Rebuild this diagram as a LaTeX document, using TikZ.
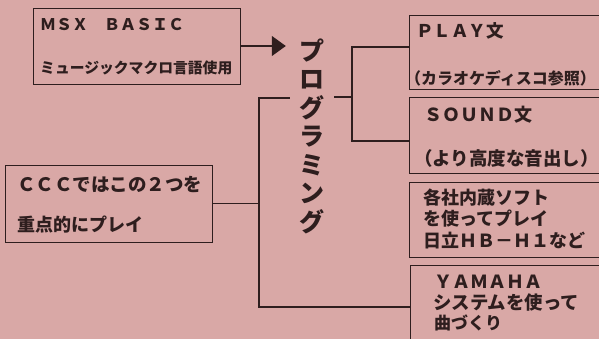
\documentclass[tikz,border=0pt]{standalone}
\usepackage{fontspec}
\setmainfont{Noto Sans CJK JP}
\usetikzlibrary{positioning,arrows.meta}
\definecolor{paper}{RGB}{217,168,166}
\definecolor{ink}{RGB}{46,30,30}

\begin{document}
\begin{tikzpicture}[
        x=1pt, y=-1pt,
        every node/.style={text=ink},
        box/.style={draw=ink, line width=0.9pt, minimum width=207pt, inner sep=0pt},
        wide/.style={minimum width=231pt},
        txt/.style={anchor=west, inner sep=0pt},
        link/.style={draw=ink, line width=1.1pt},
        fs/.style={font=\fontsize{#1}{#1}\selectfont\bfseries}
    ]
    \fill[paper] (0,0) rectangle (599,339);
    \clip (0,0) rectangle (599,339);

    % boxes
    \node[box, minimum height=76pt] (msx) at (136.5,46) {};
    \node[box, minimum height=77pt] (ccc) at (108.5,203.5) {};
    \node[box, wide, minimum height=74pt] (play) at (524.5,52) {};
    \node[box, wide, minimum height=76pt] (sound) at (524.5,135) {};
    \node[box, wide, minimum height=75pt] (naizo) at (525,219.5) {};
    \node[box, wide, minimum height=95pt] (yamaha) at (525.5,312.5) {};

    % texts
    \node[txt, fs=16] (msxa) at (40,25) {ＭＳＸ　ＢＡＳＩＣ};
    \node[txt, fs=14.8] (msxb) at (40,68) {ミュージックマクロ言語使用};
    \node[txt, fs=18.5] (ccca) at (17,185) {ＣＣＣではこの２つを};
    \node[txt, fs=18] (cccb) at (17,225) {重点的にプレイ};
    \node[txt, fs=17.5] (playa) at (416,31) {ＰＬＡＹ文};
    \node[txt, fs=16] (playb) at (405,78) {（カラオケディスコ参照）};
    \node[txt, fs=18] (sounda) at (424,115) {ＳＯＵＮＤ文};
    \node[txt, fs=18.5] (soundb) at (414,158) {（より高度な音出し）};
    \node[txt, fs=18] (naizoa) at (423,198) {各社内蔵ソフト};
    \node[txt, fs=18] (naizob) at (423,219) {を使ってプレイ};
    \node[txt, fs=18] (naizoc) at (423,241) {日立ＨＢ－Ｈ１など};
    \node[txt, fs=18] (yamahaa) at (434,282) {ＹＡＭＡＨＡ};
    \node[txt, fs=18.4] (yamahab) at (433,302) {システムを使って};
    \node[txt, fs=17] (yamahac) at (434,323) {曲づくり};

    \node[font=\fontsize{25}{28.5}\selectfont\bfseries, align=center, minimum width=44pt, inner sep=0pt] (prog) at (312,136) {プ\\ロ\\グ\\ラ\\ミ\\ン\\グ};

    % connectors
    \draw[link, -{Triangle[length=14pt,width=20pt]}, shorten >=4pt] (msx.east) -- (msx.east -| prog.west);

    \coordinate (ltop) at (259,98);
    \coordinate (lbot) at (259,307);
    \draw[link] (prog.west |- ltop) -- (ltop) -- (lbot) -- (lbot -| yamaha.west);
    \draw[link] (ccc.east) -- (ccc.east -| ltop);

    \coordinate (rtop) at (352,47);
    \coordinate (rmid) at (352,97);
    \coordinate (rbot) at (352,141);
    \draw[link] (prog.east |- rmid) -- (rmid);
    \draw[link] (play.west |- rtop) -- (rtop) -- (rbot) -- (sound.west |- rbot);
\end{tikzpicture}
\end{document}
